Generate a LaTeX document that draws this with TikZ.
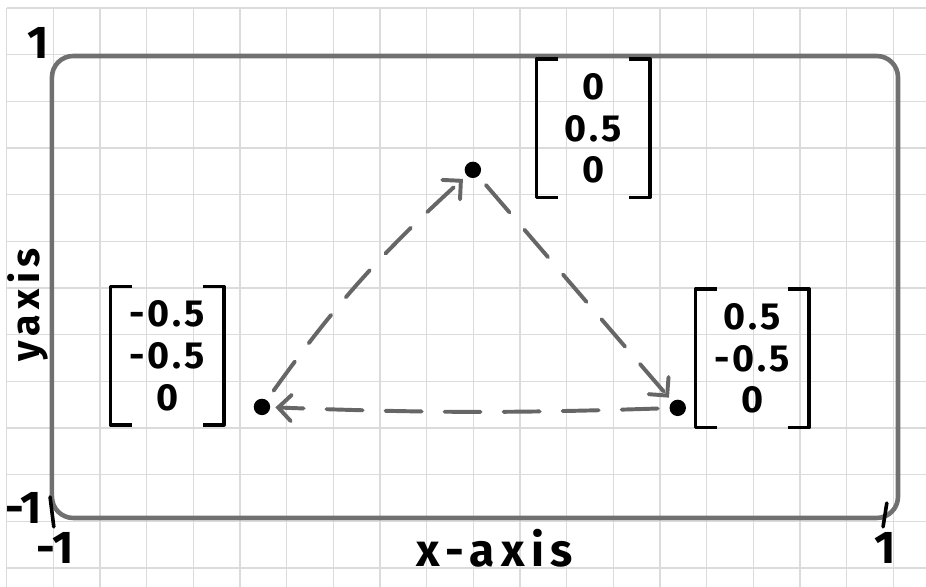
\documentclass[tikz,border=0pt]{standalone}
\usepackage{fontspec}
\setmainfont{Fira Sans}
\usetikzlibrary{arrows.meta}

\begin{document}
\begin{tikzpicture}[
    cuadricula/.style={draw=black!14, line width=0.8pt},
    marco/.style={draw=black!56, line width=2.8pt, rounded corners=13pt},
    flecha/.style={draw=black!60, line width=2.4pt, line cap=round,
        dash pattern=on 22pt off 14pt,
        -{Straight Barb[length=8pt, width=16pt, line cap=round]},
        shorten >=3pt, shorten <=7pt},
    punto/.style={circle, fill=black, inner sep=0pt, minimum size=10pt},
    vector/.style={font=\fontsize{23}{25.5}\selectfont\bfseries\addfontfeature{LetterSpace=8},
        align=center, minimum width=2.42cm, minimum height=2.95cm, inner sep=0pt},
    corchete/.style={draw=black, line width=2.2pt, line join=round},
    etiqueta/.style={font=\fontsize{28}{30}\selectfont\bfseries, inner sep=0pt},
    marca/.style={draw=black, line width=2.2pt, line cap=round}]

    % Hoja cuadriculada
    \useasboundingbox (-0.143,-0.407) rectangle (19.70,12.17);
    \draw[cuadricula] (0,-0.407) grid (19.70,12);

    % Marco de la region [-1,1] x [-1,1]
    \draw[marco] (0.97,1.07) rectangle (19.1,10.97);

    % Marcas y etiquetas de los ejes
    \draw[marca] (0.93,1.52) -- (1.01,0.88);
    \draw[marca] (18.86,1.39) -- (18.78,0.88);
    \node[etiqueta] (ymax) at (0.67,11.25) {1};
    \node[etiqueta] (ymin) at (0.36,1.29) {-1};
    \node[etiqueta] (xmin) at (1.04,0.43) {-1};
    \node[etiqueta] (xmax) at (18.82,0.43) {1};
    \node[etiqueta, font=\fontsize{28}{30}\selectfont\bfseries\addfontfeature{LetterSpace=14}]
        (ejex) at (10.46,0.42) {x-axis};
    \node[etiqueta, rotate=90, font=\fontsize{24}{28}\selectfont\bfseries\addfontfeature{LetterSpace=14}]
        (ejey) at (0.46,5.64) {yaxis};

    % Vertices del triangulo
    \node[punto] (arriba) at (9.99,8.53) {};
    \node[punto] (izq) at (5.47,3.45) {};
    \node[punto] (der) at (14.38,3.43) {};

    % Coordenadas de cada vertice
    \node[vector] (varriba) at (12.57,9.42) {0\\0.5\\0};
    \node[vector] (vizq) at (3.44,4.55) {-0.5\\-0.5\\0};
    \node[vector] (vder) at (15.98,4.49) {0.5\\-0.5\\0};
    \foreach \v in {varriba,vizq,vder}{
        \draw[corchete] ([xshift=13pt]\v.north west) -- (\v.north west)
            -- (\v.south west) -- ([xshift=13pt]\v.south west);
        \draw[corchete] ([xshift=-13pt]\v.north east) -- (\v.north east)
            -- (\v.south east) -- ([xshift=-13pt]\v.south east);
    }

    % Recorrido del triangulo
    \draw[flecha] (izq) to[bend left=6] (arriba);
    \draw[flecha] (arriba) -- (der);
    \draw[flecha] (der) to[bend left=2] (izq);
\end{tikzpicture}
\end{document}
